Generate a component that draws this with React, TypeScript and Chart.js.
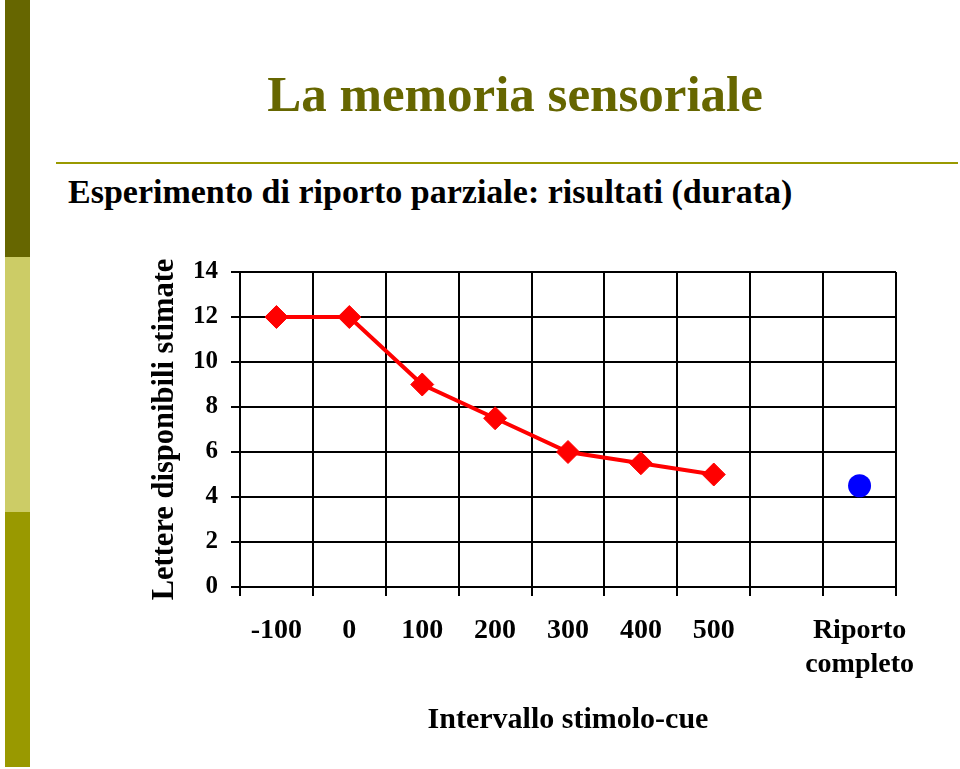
import React, { useEffect, useRef } from 'react';
import { Chart, registerables } from 'chart.js';

Chart.register(...registerables);

// ---- data ----
const categories: (string | string[])[] = ['-100', '0', '100', '200', '300', '400', '500', '', ['Riporto', 'completo']];
const partialReport: (number | null)[] = [12, 12, 9, 7.5, 6, 5.5, 5, null, null];
const wholeReport: (number | null)[] = [null, null, null, null, null, null, null, null, 4.5];
const yMin = 0;
const yMax = 14;
const yStep = 2;

const titleText = 'La memoria sensoriale';
const subtitleText = 'Esperimento di riporto parziale: risultati (durata)';
const xTitle = 'Intervallo stimolo-cue';
const yTitle = 'Lettere disponibili stimate';

const SERIF = '"Liberation Serif", "Times New Roman", serif';

export default function App() {
  const canvasRef = useRef<HTMLCanvasElement | null>(null);

  useEffect(() => {
    const canvas = canvasRef.current;
    if (!canvas) return;
    const gridColor = '#000000';
    const chart = new Chart(canvas, {
      type: 'line',
      data: {
        labels: categories as any,
        datasets: [
          {
            label: 'Riporto parziale',
            data: partialReport,
            borderColor: '#FF0000',
            backgroundColor: '#FF0000',
            borderWidth: 4,
            pointStyle: 'rectRot',
            pointRadius: 11.5,
            pointBorderWidth: 1,
            pointBackgroundColor: '#FF0000',
            pointBorderColor: '#FF0000',
            spanGaps: false,
            tension: 0,
          },
          {
            label: 'Riporto completo',
            data: wholeReport,
            showLine: false,
            borderColor: '#0000FF',
            backgroundColor: '#0000FF',
            pointStyle: 'circle',
            pointRadius: 11.5,
            pointBorderWidth: 0,
            pointBackgroundColor: '#0000FF',
          },
        ],
      },
      options: {
        animation: false,
        responsive: false,
        maintainAspectRatio: false,
        devicePixelRatio: 1,
        layout: { padding: { left: 140, top: 272, right: 64, bottom: 0 } },
        plugins: {
          legend: { display: false },
          tooltip: { enabled: false },
        },
        scales: {
          x: {
            type: 'category',
            offset: true,
            grid: {
              offset: true,
              color: gridColor,
              lineWidth: 2,
              tickLength: 9,
              drawTicks: true,
              drawOnChartArea: true,
            },
            border: { display: true, color: gridColor, width: 2 },
            ticks: {
              color: '#000',
              font: { family: SERIF, size: 28, weight: 'bold', lineHeight: 1.2 },
              padding: 18,
              maxRotation: 0,
              minRotation: 0,
              autoSkip: false,
            },
            title: {
              display: true,
              text: xTitle,
              color: '#000',
              font: { family: SERIF, size: 30, weight: 'bold', lineHeight: 1.2 },
              padding: { top: 0, bottom: 31 },
            },
            afterFit: (s: any) => {
              s.height = 182;
            },
          },
          y: {
            min: yMin,
            max: yMax,
            grid: {
              color: gridColor,
              lineWidth: 2,
              tickLength: 9,
              drawTicks: true,
            },
            border: { display: true, color: gridColor, width: 2 },
            ticks: {
              stepSize: yStep,
              color: '#000',
              font: { family: SERIF, size: 25, weight: 'bold' },
              padding: 13,
            },
            title: {
              display: true,
              text: yTitle,
              color: '#000',
              font: { family: SERIF, size: 30.5, weight: 'bold', lineHeight: 1.2 },
              padding: { top: 7, bottom: 0 },
            },
            afterFit: (s: any) => {
              s.width = 100;
            },
          },
        },
      },
    });
    return () => chart.destroy();
  }, []);

  return (
    <div
      style={{
        position: 'fixed',
        left: 0,
        top: 0,
        width: 960,
        height: 769,
        background: '#ffffff',
        overflow: 'hidden',
      }}
    >
      <div style={{ position: 'absolute', left: 5, top: 0, width: 25, height: 257, background: '#666600' }} />
      <div style={{ position: 'absolute', left: 5, top: 257, width: 25, height: 255, background: '#CCCC66' }} />
      <div style={{ position: 'absolute', left: 5, top: 512, width: 25, height: 255, background: '#999900' }} />
      <div
        style={{
          position: 'absolute',
          left: 0,
          width: 1030,
          top: 69,
          textAlign: 'center',
          fontFamily: SERIF,
          fontWeight: 'bold',
          fontSize: 51,
          lineHeight: '51px',
          color: '#666600',
          whiteSpace: 'nowrap',
        }}
      >
        {titleText}
      </div>
      <div style={{ position: 'absolute', left: 56, top: 162, width: 902, height: 2, background: '#999900' }} />
      <div
        style={{
          position: 'absolute',
          left: 68,
          top: 175,
          fontFamily: SERIF,
          fontWeight: 'bold',
          fontSize: 34,
          lineHeight: '34px',
          color: '#000000',
          whiteSpace: 'nowrap',
        }}
      >
        {subtitleText}
      </div>
      <canvas
        ref={canvasRef}
        width={960}
        height={769}
        style={{ position: 'absolute', left: 0, top: 0, width: 960, height: 769 }}
      />
    </div>
  );
}
